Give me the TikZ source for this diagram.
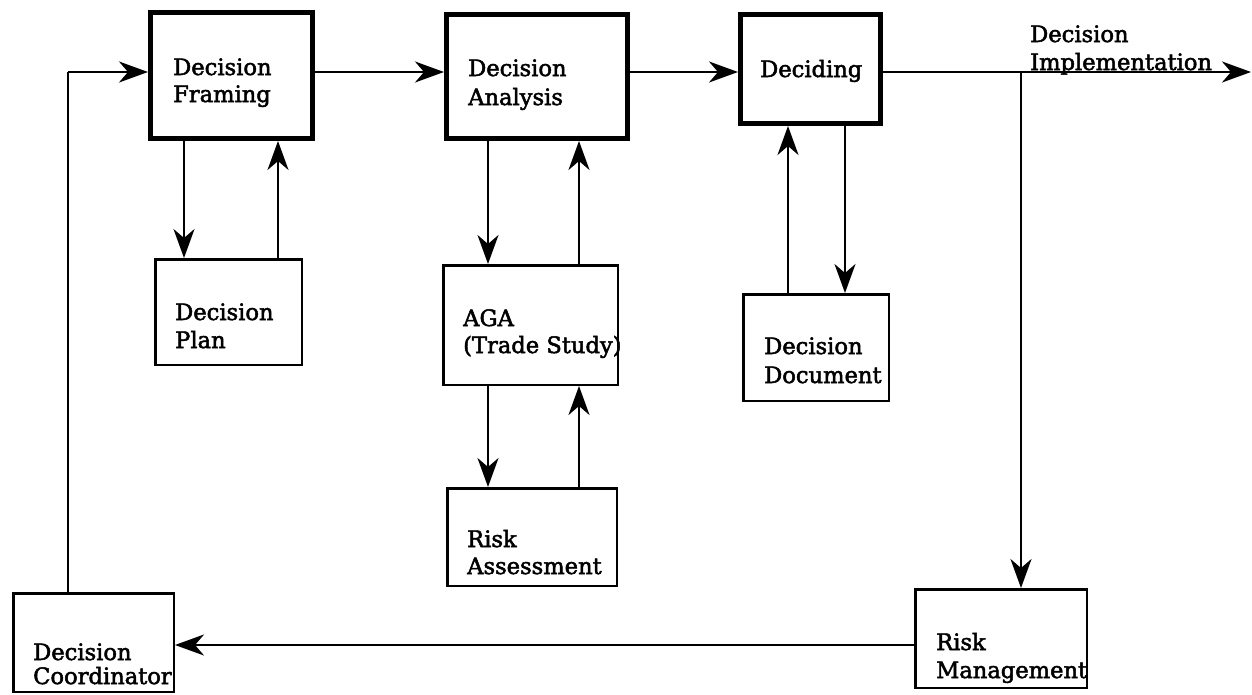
\documentclass[tikz,border=0pt]{standalone}
\usepackage{fontspec}
\setmainfont{DejaVu Serif}
\newfontfamily\boxfont[FakeBold=2.2]{DejaVu Serif}
\usetikzlibrary{arrows.meta}

\begin{document}
\begin{tikzpicture}[x=1pt, y=-1pt,
  every node/.style={inner sep=0pt},
  mainbox/.style={draw, line width=5pt, fill=none},
  subbox/.style={draw, line width=2.5pt, fill=none},
  lbl/.style={anchor=base west, font=\boxfont\fontsize{22.6}{28}\selectfont},
  flow/.style={line width=2.4pt, -{Stealth[length=29pt, width=21pt, inset=9pt]}},
  link/.style={line width=2.4pt}]

\useasboundingbox (0,0) rectangle (1252,694);

% process boxes
\node[mainbox, minimum width=162pt, minimum height=126pt] (framing)  at (231.5,75.5) {};
\node[mainbox, minimum width=181pt, minimum height=124pt] (analysis) at (537,76.5) {};
\node[mainbox, minimum width=140pt, minimum height=109pt] (deciding) at (810.5,69) {};

\node[subbox, minimum width=146.5pt, minimum height=105.5pt] (plan)     at (228.5,312) {};
\node[subbox, minimum width=174.5pt, minimum height=119.5pt] (aga)      at (530.5,325) {};
\node[subbox, minimum width=145.5pt, minimum height=106.5pt] (document) at (816,347.5) {};
\node[subbox, minimum width=169.5pt, minimum height=97.5pt]  (riska)    at (532,537) {};
\node[subbox, minimum width=160.5pt, minimum height=98.5pt]  (coord)    at (93.5,642.5) {};
\node[subbox, minimum width=171.5pt, minimum height=98.5pt]  (riskm)    at (1001,638.5) {};

% labels
\node[lbl] (framing-a)  at (173,75)  {Decision};
\node[lbl] (framing-b)  at (173,102) {Framing};
\node[lbl] (analysis-a) at (468,76)  {Decision};
\node[lbl] (analysis-b) at (468,105) {Analysis};
\node[lbl] (deciding-a) at (760,77)  {Deciding};
\node[lbl] (plan-a)     at (175,320) {Decision};
\node[lbl] (plan-b)     at (175,348) {Plan};
\node[lbl] (aga-a)      at (463,326) {AGA};
\node[lbl] (aga-b)      at (463,353) {(Trade Study)};
\node[lbl] (document-a) at (764,354) {Decision};
\node[lbl] (document-b) at (764,383) {Document};
\node[lbl] (riska-a)    at (467,547) {Risk};
\node[lbl] (riska-b)    at (467,574) {Assessment};
\node[lbl] (coord-a)    at (33,660)  {Decision};
\node[lbl] (coord-b)    at (33,684)  {Coordinator};
\node[lbl] (riskm-a)    at (936,650) {Risk};
\node[lbl] (riskm-b)    at (936,678) {Management};
\node[lbl] (impl-a)     at (1030,42) {Decision};
\node[lbl] (impl-b)     at (1030,70) {Implementation};

% main row
\coordinate (row) at (0,72);
\coordinate (out) at (1251,72);
\coordinate (split) at (1021,72);
\coordinate (corner) at (68,72);

\draw[flow] (framing.east |- row) -- (analysis.west |- row);
\draw[flow] (analysis.east |- row) -- (deciding.west |- row);
\draw[flow] (deciding.east |- row) -- (out);

% feedback loop
\draw[flow] (split) -- (split |- riskm.north);
\draw[flow] (riskm.west |- 0,645) -- (coord.east |- 0,645);
\draw[link] (corner |- coord.north) -- (corner);
\draw[flow] (corner) -- (framing.west |- row);

% framing <-> plan
\draw[flow] (184,0 |- framing.south) -- (184,0 |- plan.north);
\draw[flow] (278,0 |- plan.north) -- (278,0 |- framing.south);

% analysis <-> AGA
\draw[flow] (488,0 |- analysis.south) -- (488,0 |- aga.north);
\draw[flow] (579,0 |- aga.north) -- (579,0 |- analysis.south);

% AGA <-> risk assessment
\draw[flow] (488,0 |- aga.south) -- (488,0 |- riska.north);
\draw[flow] (579,0 |- riska.north) -- (579,0 |- aga.south);

% deciding <-> document
\draw[flow] (788,0 |- document.north) -- (788,0 |- deciding.south);
\draw[flow] (845,0 |- deciding.south) -- (845,0 |- document.north);

\end{tikzpicture}
\end{document}
